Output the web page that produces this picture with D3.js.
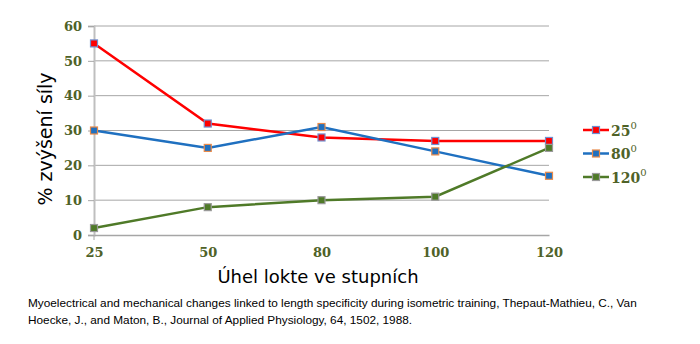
<!DOCTYPE html>
<html><head><meta charset="utf-8">
<script src="https://cdn.jsdelivr.net/npm/d3@7"></script>
<style>body{margin:0;background:#fff}</style>
</head><body>
<svg id="c" width="700" height="344"></svg>
<script>
const categories = ["25","50","80","100","120"];
const s25 = [55,32,28,27,27];
const s80 = [30,25,31,24,17];
const s120 = [2,8,10,11,25];
const yTicks = [0,10,20,30,40,50,60];
const seriesNames = ["25","80","120"];

const series = [
  {name:seriesNames[0], values:s25, color:"#ff0000", fill:"#ff0000", border:"#6f8fd0"},
  {name:seriesNames[1], values:s80, color:"#1f70c0", fill:"#1f70c0", border:"#e88a4a"},
  {name:seriesNames[2], values:s120, color:"#4f7a28", fill:"#4f7a28", border:"#9a9a9a"}
];

const svg = d3.select("#c");
const pL=94, pR=549, pT=26, pB=235;
const x = d3.scalePoint().domain(categories).range([pL,pR]);
const y = d3.scaleLinear().domain([0,60]).range([pB,pT]);
const tickColor="#4f6228";

// grid
svg.append("g").selectAll("line").data(yTicks.filter(d=>d>0)).join("line")
  .attr("x1",pL).attr("x2",pR).attr("y1",d=>y(d)).attr("y2",d=>y(d))
  .attr("stroke","#a6a6a6").attr("stroke-width",1);

// y axis
const ya = svg.append("g").attr("transform",`translate(${pL},0)`)
  .call(d3.axisLeft(y).tickValues(yTicks).tickSize(6).tickPadding(6));
ya.select(".domain").attr("stroke","#bfbfbf").attr("stroke-width",2);
ya.selectAll(".tick line").attr("stroke","#a6a6a6");
ya.selectAll("text").attr("fill",tickColor).style("font-family","'DejaVu Serif',serif")
  .style("font-weight","bold").style("font-size","13px");

// x axis
const xa = svg.append("g").attr("transform",`translate(0,${pB})`)
  .call(d3.axisBottom(x).tickSize(0).tickPadding(13));
xa.select(".domain").attr("stroke","#a6a6a6").attr("stroke-width",1.5);
xa.selectAll("text").attr("fill",tickColor).style("font-family","'DejaVu Serif',serif")
  .style("font-weight","bold").style("font-size","13px");
svg.append("line").attr("x1",pL).attr("x2",pL).attr("y1",pB).attr("y2",pB+5).attr("stroke","#a6a6a6");

// lines
const line = d3.line().x((d,i)=>x(categories[i])).y(d=>y(d));
series.forEach(s=>{
  svg.append("path").datum(s.values).attr("d",line).attr("fill","none")
    .attr("stroke",s.color).attr("stroke-width",2.5);
});
series.forEach(s=>{
  svg.append("g").selectAll("rect").data(s.values).join("rect")
    .attr("x",(d,i)=>x(categories[i])-3.5).attr("y",d=>y(d)-3.5)
    .attr("width",7).attr("height",7).attr("fill",s.fill)
    .attr("stroke",s.border).attr("stroke-width",1.2);
});

// legend
const lg = svg.append("g");
series.forEach((s,i)=>{
  const ly = 130 + i*23.5;
  lg.append("line").attr("x1",583).attr("x2",609).attr("y1",ly).attr("y2",ly)
    .attr("stroke",s.color).attr("stroke-width",2.5);
  lg.append("rect").attr("x",592.5).attr("y",ly-3.5).attr("width",7).attr("height",7)
    .attr("fill",s.fill).attr("stroke",s.border).attr("stroke-width",1.2);
  const t = lg.append("text").attr("x",611).attr("y",ly+5.5).attr("fill",tickColor)
    .style("font-family","'DejaVu Serif',serif").style("font-weight","bold").style("font-size","14px");
  t.append("tspan").text(s.name);
  t.append("tspan").attr("dy",-7).style("font-size","10px").style("font-weight","normal").text("0");
});

// titles
svg.append("text").attr("x",318).attr("y",283).attr("text-anchor","middle")
  .style("font-family","'DejaVu Sans',sans-serif").style("font-size","18px").attr("fill","#000")
  .text("Úhel lokte ve stupních");
svg.append("text").attr("transform","translate(52,139) rotate(-90)").attr("text-anchor","middle")
  .style("font-family","'DejaVu Sans',sans-serif").style("font-size","19px").attr("fill","#000")
  .text("% zvýšení síly");

// caption
const cap = svg.append("text").style("font-family","'Liberation Sans',Arial,sans-serif")
  .style("font-size","11.8px").attr("fill","#000");
cap.append("tspan").attr("x",28).attr("y",307).text("Myoelectrical and mechanical changes linked to length specificity during isometric training, Thepaut-Mathieu, C., Van");
cap.append("tspan").attr("x",28).attr("y",324).text("Hoecke, J., and Maton, B., Journal of Applied Physiology, 64, 1502, 1988.");
</script>
</body></html>
